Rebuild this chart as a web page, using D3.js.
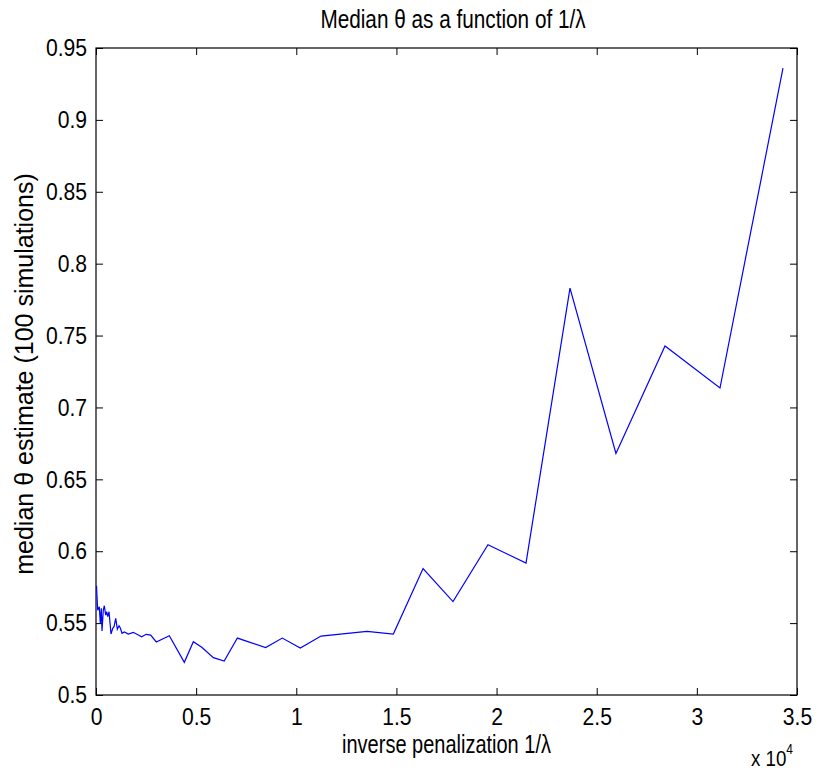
<!DOCTYPE html>
<html lang="en">
<head>
<meta charset="utf-8">
<title>Median theta</title>
<script src="https://d3js.org/d3.v7.min.js"></script>
<style>
  body { margin: 0; background: #fff; }
  text { font-family: "Liberation Sans", Arial, sans-serif; fill: #000; }
</style>
</head>
<body>
<div id="chart"></div>
<script>

// data (x in units of 1/lambda, y = median theta)
var invLambda = [25, 85, 165, 215, 265, 300, 365, 415, 485, 535, 585, 650, 750, 835, 900, 985,
  1065, 1150, 1215, 1300, 1415, 1615, 1860, 2280, 2500, 2730, 3010, 3660, 4410, 4860, 5280,
  5860, 6400, 7060, 8470, 9300, 10200, 11235, 13530, 14845, 16330, 17825, 19570, 21470,
  23666, 25960, 28410, 31155, 34300];
var medianTheta = [0.576, 0.559, 0.5614, 0.5499, 0.5603, 0.5445, 0.5591, 0.5621, 0.5556, 0.5579,
  0.5545, 0.5579, 0.5424, 0.5464, 0.5475, 0.5533, 0.5457, 0.5482, 0.5466, 0.5429, 0.5438,
  0.5424, 0.5436, 0.5405, 0.5422, 0.5417, 0.5369, 0.5412, 0.5227, 0.5371, 0.5332, 0.526,
  0.5236, 0.5396, 0.533, 0.5396, 0.5327, 0.541, 0.5443, 0.5424, 0.588, 0.565, 0.6045, 0.5918,
  0.783, 0.668, 0.7428, 0.7135, 0.936];

var xTicks = [0, 0.5, 1, 1.5, 2, 2.5, 3, 3.5];   // x 10^4
var yTicks = [0.5, 0.55, 0.6, 0.65, 0.7, 0.75, 0.8, 0.85, 0.9, 0.95];

var width = 819, height = 772;
var mLeft = 96, mRight = 797, mTop = 48, mBottom = 695;

var svg = d3.select("#chart").append("svg")
  .attr("width", width)
  .attr("height", height);

var x = d3.scaleLinear().domain([0, 35000]).range([mLeft, mRight]);
var y = d3.scaleLinear().domain([0.5, 0.95]).range([mBottom, mTop]);

var tickLen = 7;
var tickSx = 0.88;   // the original font is narrower than Liberation Sans
var fmt = function(d) { return String(d); };

// bottom axis
svg.append("g")
  .attr("transform", "translate(0," + mBottom + ")")
  .call(d3.axisBottom(x).tickValues(xTicks.map(function(d) { return d * 1e4; }))
    .tickSize(-tickLen).tickPadding(10).tickFormat(function(d) { return fmt(d / 1e4); }))
  .call(function(g) {
    g.select(".domain").remove();
    g.selectAll("line").attr("stroke", "#000");
    g.selectAll("text").attr("font-size", 24).attr("dy", "0.82em")
      .attr("transform", "scale(" + tickSx + ",1)");
  });

// top ticks
svg.append("g")
  .attr("transform", "translate(0," + mTop + ")")
  .call(d3.axisTop(x).tickValues(xTicks.map(function(d) { return d * 1e4; }))
    .tickSize(-tickLen).tickFormat(""))
  .call(function(g) { g.select(".domain").remove(); g.selectAll("line").attr("stroke", "#000"); });

// left axis
svg.append("g")
  .attr("transform", "translate(" + mLeft + ",0)")
  .call(d3.axisLeft(y).tickValues(yTicks).tickSize(-tickLen).tickPadding(9).tickFormat(fmt))
  .call(function(g) {
    g.select(".domain").remove();
    g.selectAll("line").attr("stroke", "#000");
    g.selectAll("text").attr("font-size", 24)
      .attr("x", -9 / tickSx)
      .attr("transform", "scale(" + tickSx + ",1)");
  });

// right ticks
svg.append("g")
  .attr("transform", "translate(" + mRight + ",0)")
  .call(d3.axisRight(y).tickValues(yTicks).tickSize(-tickLen).tickFormat(""))
  .call(function(g) { g.select(".domain").remove(); g.selectAll("line").attr("stroke", "#000"); });

// box
svg.append("rect")
  .attr("x", mLeft).attr("y", mTop)
  .attr("width", mRight - mLeft).attr("height", mBottom - mTop)
  .attr("fill", "none").attr("stroke", "#000").attr("stroke-width", 1.2);

// the line
var pts = invLambda.map(function(d, i) { return [d, medianTheta[i]]; });
svg.append("path")
  .datum(pts)
  .attr("fill", "none")
  .attr("stroke", "#0000ff")
  .attr("stroke-width", 1.2)
  .attr("d", d3.line().x(function(d) { return x(d[0]); }).y(function(d) { return y(d[1]); }));

// title and labels
svg.append("text")
  .attr("transform", "translate(453,28) scale(0.83,1)")
  .attr("text-anchor", "middle").attr("font-size", 25)
  .text("Median \u03b8 as a function of 1/\u03bb");

svg.append("text")
  .attr("transform", "translate(" + ((mLeft + mRight) / 2) + ",753) scale(0.8,1)")
  .attr("text-anchor", "middle").attr("font-size", 25)
  .text("inverse penalization 1/\u03bb");

svg.append("text")
  .attr("transform", "translate(33,374) rotate(-90)")
  .attr("text-anchor", "middle").attr("font-size", 25)
  .text("median \u03b8 estimate (100 simulations)");

var exp = svg.append("text")
  .attr("transform", "translate(751,766) scale(0.85,1)")
  .attr("font-size", 22);
exp.append("tspan").text("x 10");
exp.append("tspan").attr("font-size", 14).attr("dy", -12).text("4");

</script>
</body>
</html>
